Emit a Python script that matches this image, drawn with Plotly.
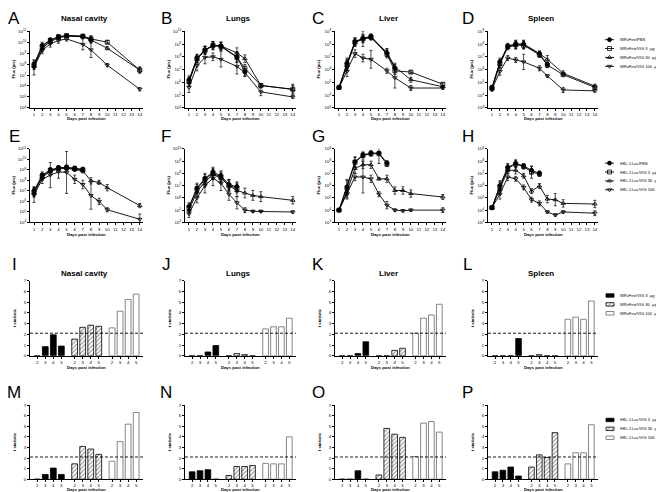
import plotly.graph_objects as go
import numpy as np

W, H = 664, 492

# ---------------- DATA (log10 flux, p/s) ----------------
days_wr = [1, 2, 3, 4, 5, 7, 8, 10, 14]
days_ihd = [1, 2, 3, 4, 5, 6, 7, 8, 9, 10, 14]

series_names_wr = ["WRvFire/PBS", "WRvFire/VIG 3  \u00b5g", "WRvFire/VIG 30  \u00b5g", "WRvFire/VIG 100  \u00b5g"]
series_names_ihd = ["IHD-J-Luc/PBS", "IHD-J-Luc/VIG 3  \u00b5g", "IHD-J-Luc/VIG 30  \u00b5g", "IHD-J-Luc/VIG 100  \u00b5g"]

# A  Nasal cavity (WR)
nasal_wr_pbs = [8.0, 9.7, 10.2, 10.5, 10.6, 10.55, 10.25]
nasal_wr_v3 = [7.9, 9.6, 10.15, 10.5, 10.6, 10.55, 10.3, 10.0, 7.45]
nasal_wr_v30 = [7.8, 9.45, 10.05, 10.4, 10.55, 10.5, 10.2, 9.45, 7.45]
nasal_wr_v100 = [7.7, 9.25, 9.85, 10.15, 10.3, 9.8, 9.3, 7.9, 5.7]
nasal_wr_err = [[0.3, 0.3, 0.2, 0.15, 0.1, 0.1, 0.2],
                [0.3, 0.3, 0.2, 0.15, 0.1, 0.15, 0.3, 0.15, 0.3],
                [0.3, 0.3, 0.2, 0.15, 0.1, 0.15, 0.3, 0.15, 0.2],
                [0.7, 0.3, 0.3, 0.25, 0.2, 0.5, 0.7, 0.15, 0.15]]
# B  Lungs (WR)
lungs_wr_pbs = [6.2, 7.9, 8.55, 8.9, 8.85, 8.0, 6.8]
lungs_wr_v3 = [6.1, 7.85, 8.5, 8.9, 8.8, 7.95, 7.1, 5.75, 5.45]
lungs_wr_v30 = [6.0, 7.8, 8.5, 8.85, 8.85, 8.3, 7.85, 5.75, 5.45]
lungs_wr_v100 = [5.6, 7.3, 7.95, 8.0, 7.8, 7.25, 6.75, 5.25, 4.85]
lungs_wr_err = [[0.3, 0.3, 0.3, 0.3, 0.3, 0.4, 0.3],
                [0.3, 0.3, 0.3, 0.3, 0.3, 0.4, 0.3, 0.1, 0.4],
                [0.3, 0.3, 0.3, 0.3, 0.3, 0.4, 0.3, 0.1, 0.3],
                [0.4, 0.4, 0.5, 0.3, 0.6, 0.6, 0.3, 0.3, 0.1]]
# C  Liver (WR)
liver_wr_pbs = [4.6, 6.5, 8.2, 8.45, 8.6, 7.3, 6.1]
liver_wr_v3 = [4.6, 6.4, 8.15, 8.4, 8.55, 7.2, 5.9, 5.8, 4.85]
liver_wr_v30 = [4.55, 6.3, 8.1, 8.4, 8.5, 7.35, 6.2, 5.2, 4.65]
liver_wr_v100 = [4.55, 5.85, 7.25, 6.9, 6.8, 5.9, 5.35, 4.55, 4.55]
liver_wr_err = [[0.1, 0.4, 0.3, 0.3, 0.2, 0.3, 0.3],
                [0.1, 0.4, 0.3, 0.6, 0.2, 0.3, 0.3, 0.1, 0.1],
                [0.1, 0.4, 0.3, 0.3, 0.2, 0.3, 0.3, 0.2, 0.1],
                [0.1, 0.4, 0.3, 0.3, 0.7, 0.2, 0.8, 0.2, 0.1]]
# D  Spleen (WR)
spleen_wr_pbs = [4.6, 6.6, 7.85, 8.0, 8.0, 7.25, 6.4]
spleen_wr_v3 = [4.55, 6.5, 7.8, 7.95, 7.9, 7.15, 6.35, 5.6, 4.6]
spleen_wr_v30 = [4.5, 6.4, 7.75, 7.9, 7.95, 7.25, 6.8, 5.7, 4.7]
spleen_wr_v100 = [4.45, 5.85, 6.9, 6.75, 6.6, 6.1, 5.5, 4.4, 4.33]
spleen_wr_err = [[0.15, 0.3, 0.2, 0.3, 0.3, 0.2, 0.2],
                 [0.15, 0.3, 0.2, 0.3, 0.3, 0.2, 0.2, 0.1, 0.1],
                 [0.15, 0.3, 0.2, 0.3, 0.3, 0.2, 0.3, 0.2, 0.15],
                 [0.15, 0.3, 0.2, 0.2, 0.6, 0.2, 0.1, 0.2, 0.1]]
# E  Nasal cavity (IHD)
nasal_ihd_pbs = [7.0, 8.5, 9.0, 9.2, 9.25, 9.15, 9.05]
nasal_ihd_v3 = [6.9, 8.4, 8.95, 9.15, 9.2, 9.1, 9.0]
nasal_ihd_v30 = [6.8, 8.3, 8.85, 9.1, 9.15, 9.05, 8.9, 7.95, 7.8, 7.3, 5.6]
nasal_ihd_v100 = [6.6, 8.1, 8.5, 8.8, 8.75, 8.1, 7.6, 6.55, 6.0, 5.2, 4.3]
nasal_ihd_err = [[0.4, 0.3, 0.2, 0.2, 0.2, 0.2, 0.2],
                 [0.4, 0.3, 0.2, 0.2, 0.2, 0.2, 0.2],
                 [0.4, 0.3, 0.2, 0.2, 0.2, 0.2, 0.2, 0.3, 0.2, 0.3, 0.2],
                 [0.7, 0.4, 1.2, 0.6, 2.0, 0.4, 0.4, 1.3, 0.3, 0.2, 0.5]]
# F  Lungs (IHD)
lungs_ihd_pbs = [5.3, 6.8, 7.6, 8.1, 7.8, 7.1, 6.9]
lungs_ihd_v3 = [5.2, 6.7, 7.5, 8.0, 7.7, 7.0, 6.8]
lungs_ihd_v30 = [5.0, 6.5, 7.3, 7.9, 7.6, 7.0, 6.6, 6.4, 6.2, 6.1, 5.8]
lungs_ihd_v100 = [4.7, 6.0, 7.0, 7.6, 7.2, 6.3, 5.6, 5.0, 4.9, 4.9, 4.85]
lungs_ihd_err = [[0.3, 0.4, 0.4, 0.4, 0.4, 0.4, 0.4],
                 [0.3, 0.4, 0.4, 0.4, 0.4, 0.4, 0.4],
                 [0.3, 0.4, 0.4, 0.4, 0.4, 0.5, 0.5, 0.4, 0.4, 0.4, 0.3],
                 [0.3, 0.4, 0.6, 0.6, 0.6, 0.5, 0.5, 0.2, 0.1, 0.1, 0.1]]
# G  Liver (IHD)
liver_ihd_pbs = [4.0, 5.9, 7.95, 8.5, 8.65, 8.65, 7.85]
liver_ihd_v3 = [4.0, 5.8, 7.9, 8.45, 8.6, 8.6, 7.75]
liver_ihd_v30 = [4.0, 5.5, 7.4, 7.7, 7.7, 6.55, 6.55, 5.6, 5.6, 5.35, 5.07]
liver_ihd_v100 = [4.0, 5.3, 6.7, 6.7, 6.55, 5.3, 4.4, 4.0, 3.95, 4.0, 4.0]
liver_ihd_err = [[0.1, 0.6, 0.4, 0.2, 0.2, 0.1, 0.2],
                 [0.1, 0.6, 0.4, 0.3, 0.2, 0.8, 0.2],
                 [0.1, 0.5, 0.4, 0.3, 0.3, 0.1, 0.3, 0.3, 0.3, 0.3, 0.2],
                 [0.1, 0.4, 0.3, 1.3, 0.3, 0.2, 0.3, 0.1, 0.1, 0.1, 0.2]]
# H  Spleen (IHD)
spleen_ihd_pbs = [4.2, 6.0, 7.5, 7.8, 7.6, 7.25, 7.0]
spleen_ihd_v3 = [4.2, 5.9, 7.4, 7.75, 7.55, 7.1, 6.95]
spleen_ihd_v30 = [4.2, 5.7, 7.25, 7.25, 6.8, 5.55, 5.97, 4.9, 4.85, 4.55, 4.5]
spleen_ihd_v100 = [4.2, 5.3, 6.7, 6.55, 5.85, 4.85, 4.55, 3.85, 3.6, 3.85, 3.75]
spleen_ihd_err = [[0.1, 0.4, 0.3, 0.3, 0.2, 0.3, 0.2],
                  [0.1, 0.4, 0.3, 0.3, 0.2, 0.5, 0.2],
                  [0.1, 0.4, 0.3, 0.3, 0.2, 0.2, 0.2, 0.3, 0.5, 0.3, 0.3],
                  [0.1, 0.4, 0.3, 0.2, 0.2, 0.2, 0.2, 0.1, 0.1, 0.1, 0.2]]

# t statistics, days 2-5 for each dose group
bar_days = ["2", "3", "4", "5"]
bar_names_wr = ["WRvFire/VIG 3  \u00b5g", "WRvFire/VIG 30  \u00b5g", "WRvFire/VIG 100  \u00b5g"]
bar_names_ihd = ["IHD-J-Luc/VIG 3  \u00b5g", "IHD-J-Luc/VIG 30  \u00b5g", "IHD-J-Luc/VIG 100  \u00b5g"]
t_nasal_wr = [[0, 0.85, 1.95, 0.9], [1.55, 2.65, 2.85, 2.75], [2.6, 4.15, 5.25, 5.75]]
t_lungs_wr = [[0, 0, 0.35, 0.95], [0, 0.2, 0.1, 0], [2.5, 2.7, 2.7, 3.5]]
t_liver_wr = [[0, 0, 0.2, 1.3], [0, 0, 0.5, 0.7], [2.1, 3.5, 3.8, 4.8]]
t_spleen_wr = [[0, 0, 0, 1.6], [0, 0.1, 0, 0], [3.4, 3.6, 3.4, 5.1]]
t_nasal_ihd = [[0, 0.45, 1.05, 0.45], [1.45, 3.1, 2.85, 2.35], [1.7, 3.55, 5.2, 6.3]]
t_lungs_ihd = [[0.7, 0.8, 0.9, 0], [0.35, 1.2, 1.2, 1.3], [1.5, 1.45, 1.45, 4.0]]
t_liver_ihd = [[0, 0, 0.8, 0], [0.4, 4.8, 4.25, 3.95], [2.15, 5.3, 5.45, 4.45]]
t_spleen_ihd = [[0.7, 0.85, 1.15, 0.3], [1.15, 2.3, 2.05, 4.4], [1.45, 2.5, 2.5, 5.15]]
t_critical = 2.1

# ---------------- LAYOUT CONSTANTS ----------------
FONT = "Arial, Liberation Sans, sans-serif"
col_px = [(22, 135), (177, 288), (327, 438), (480, 590)]
row_px = [(20.5, 98), (139.5, 214), (273, 349), (399, 474)]
tick_f = 4.4

def xd(a, b):
    return [a / W, b / W]

def yd(top, bot):
    return [1 - bot / H, 1 - top / H]

fig = go.Figure()
layout = {}
annotations = []

symbols = ["circle", "square-open", "triangle-up-open", "triangle-down-open"]

line_panels = [
    ("A", "Nasal cavity", days_wr, [nasal_wr_pbs, nasal_wr_v3, nasal_wr_v30, nasal_wr_v100], nasal_wr_err, (4, 11)),
    ("B", "Lungs", days_wr, [lungs_wr_pbs, lungs_wr_v3, lungs_wr_v30, lungs_wr_v100], lungs_wr_err, (4, 10)),
    ("C", "Liver", days_wr, [liver_wr_pbs, liver_wr_v3, liver_wr_v30, liver_wr_v100], liver_wr_err, (3, 9)),
    ("D", "Spleen", days_wr, [spleen_wr_pbs, spleen_wr_v3, spleen_wr_v30, spleen_wr_v100], spleen_wr_err, (3, 9)),
    ("E", None, days_ihd, [nasal_ihd_pbs, nasal_ihd_v3, nasal_ihd_v30, nasal_ihd_v100], nasal_ihd_err, (4, 11)),
    ("F", None, days_ihd, [lungs_ihd_pbs, lungs_ihd_v3, lungs_ihd_v30, lungs_ihd_v100], lungs_ihd_err, (4, 10)),
    ("G", None, days_ihd, [liver_ihd_pbs, liver_ihd_v3, liver_ihd_v30, liver_ihd_v100], liver_ihd_err, (3, 9)),
    ("H", None, days_ihd, [spleen_ihd_pbs, spleen_ihd_v3, spleen_ihd_v30, spleen_ihd_v100], spleen_ihd_err, (3, 9)),
]
bar_panels = [
    ("I", "Nasal cavity", t_nasal_wr), ("J", "Lungs", t_lungs_wr),
    ("K", "Liver", t_liver_wr), ("L", "Spleen", t_spleen_wr),
    ("M", None, t_nasal_ihd), ("N", None, t_lungs_ihd),
    ("O", None, t_liver_ihd), ("P", None, t_spleen_ihd),
]

letter_x = [6, 158, 310, 460]
letter_y = [8, 127, 257, 386]
xtitle_off = [10.5, 12, 12, 10.5]

axis_common = dict(showline=True, linecolor="black", linewidth=1, ticks="outside",
                   ticklen=2, tickwidth=0.8, tickcolor="black", showgrid=False, zeroline=False,
                   tickfont=dict(family=FONT, size=tick_f, color="black"))

def add_axes(idx, col, row):
    xa = dict(axis_common)
    ya = dict(axis_common)
    x0, x1 = col_px[col]
    t, b = row_px[row]
    xa["domain"] = xd(x0, x1)
    ya["domain"] = yd(t, b)
    xa["anchor"] = "y" + (str(idx) if idx > 1 else "")
    ya["anchor"] = "x" + (str(idx) if idx > 1 else "")
    return xa, ya

def panel_text(letter, title, col, row, ytitle):
    x0, x1 = col_px[col]
    t, b = row_px[row]
    cx = (x0 + x1) / 2
    annotations.append(dict(text=letter, x=letter_x[col] / W, y=1 - letter_y[row] / H, xref="paper", yref="paper",
                            showarrow=False, font=dict(family=FONT, size=17, color="black"),
                            xanchor="center", yanchor="middle"))
    if title:
        ty = 8 if row == 0 else 266
        annotations.append(dict(text="<b>%s</b>" % title, x=(cx - 2) / W, y=1 - ty / H, xref="paper", yref="paper",
                                showarrow=False, font=dict(family=FONT, size=8, color="black"),
                                xanchor="center", yanchor="middle"))
    annotations.append(dict(text="<b>Days post infection</b>", x=cx / W, y=1 - (b + xtitle_off[row]) / H,
                            xref="paper", yref="paper", showarrow=False,
                            font=dict(family=FONT, size=4.2, color="black"),
                            xanchor="center", yanchor="middle"))
    annotations.append(dict(text="<b>%s</b>" % ytitle, x=(x0 - 16) / W, y=1 - ((t + b) / 2) / H, xref="paper",
                            yref="paper", showarrow=False, textangle=-90,
                            font=dict(family=FONT, size=4.2, color="black"),
                            xanchor="center", yanchor="middle"))

idx = 1
for p, (letter, title, days, series, errs, yr) in enumerate(line_panels):
    col, row = p % 4, p // 4
    xa, ya = add_axes(idx, col, row)
    xa.update(range=[0.5, 14.4], tickvals=list(range(1, 15)), ticktext=[str(d) for d in range(1, 15)])
    ya.update(type="log", range=[yr[0], yr[1]],
              tickvals=[10.0 ** k for k in range(yr[0], yr[1] + 1)],
              ticktext=["10<sup>%d</sup>" % k for k in range(yr[0], yr[1] + 1)])
    layout["xaxis" + (str(idx) if idx > 1 else "")] = xa
    layout["yaxis" + (str(idx) if idx > 1 else "")] = ya
    for s, (vals, e) in enumerate(zip(series, errs)):
        lv = np.array(vals)
        ev = np.array(e)
        y = 10.0 ** lv
        fig.add_trace(go.Scatter(
            x=days[:len(vals)], y=y, mode="lines+markers",
            line=dict(color="black", width=0.9),
            marker=dict(symbol=symbols[s], size=4, color="black", line=dict(color="black", width=0.8)),
            error_y=dict(type="data", array=10.0 ** (lv + ev) - y, arrayminus=y - 10.0 ** (lv - ev),
                         color="black", thickness=0.7, width=1.5),
            xaxis="x" + (str(idx) if idx > 1 else ""), yaxis="y" + (str(idx) if idx > 1 else ""),
            showlegend=False, hoverinfo="skip"))
    panel_text(letter, title, col, row, "Flux (p/s)")
    idx += 1

bar_pos = [0, 1, 2, 3, 4.65, 5.65, 6.65, 7.65, 9.3, 10.3, 11.3, 12.3]
bar_styles = [dict(color="black", line=dict(color="black", width=0.8)),
              dict(color="white", line=dict(color="black", width=0.8),
                   pattern=dict(shape="/", fgcolor="black", bgcolor="white", size=3, solidity=0.3)),
              dict(color="white", line=dict(color="#777777", width=0.9))]
bx_range = [-0.9, 13.15]

for p, (letter, title, groups) in enumerate(bar_panels):
    col, row = p % 4, 2 + p // 4
    xa, ya = add_axes(idx, col, row)
    xa.update(range=bx_range, tickvals=bar_pos, ticktext=bar_days * 3)
    ya.update(range=[0, 7], tickvals=list(range(0, 8)), ticktext=[str(k) for k in range(0, 8)])
    layout["xaxis" + str(idx)] = xa
    layout["yaxis" + str(idx)] = ya
    for g, vals in enumerate(groups):
        fig.add_trace(go.Bar(x=bar_pos[4 * g:4 * g + 4], y=vals, width=0.72, marker=bar_styles[g],
                             xaxis="x" + str(idx), yaxis="y" + str(idx), showlegend=False, hoverinfo="skip"))
    fig.add_trace(go.Scatter(x=bx_range, y=[t_critical, t_critical], mode="lines",
                             line=dict(color="black", width=0.9, dash="3px,2px"),
                             xaxis="x" + str(idx), yaxis="y" + str(idx), showlegend=False, hoverinfo="skip"))
    panel_text(letter, title, col, row, "t statistic")
    idx += 1

# ---------------- manual legends (pixel overlay axis) ----------------
ov = str(idx)
layout["xaxis" + ov] = dict(domain=[0, 1], range=[0, W], visible=False, anchor="y" + ov, fixedrange=True)
layout["yaxis" + ov] = dict(domain=[0, 1], range=[H, 0], visible=False, anchor="x" + ov, fixedrange=True)

LEG_F = 4.1
legend_line_rows = [(29, 9), (154, 9)]
for (y0, dy), names in zip(legend_line_rows, [series_names_wr, series_names_ihd]):
    for s, name in enumerate(names):
        yy = y0 + dy * s
        fig.add_trace(go.Scatter(x=[597, 606], y=[yy, yy], mode="lines", line=dict(color="black", width=0.9),
                                 xaxis="x" + ov, yaxis="y" + ov, showlegend=False, hoverinfo="skip"))
        fig.add_trace(go.Scatter(x=[601.5], y=[yy], mode="markers",
                                 marker=dict(symbol=symbols[s], size=4, color="black", line=dict(color="black", width=0.8)),
                                 xaxis="x" + ov, yaxis="y" + ov, showlegend=False, hoverinfo="skip"))
        annotations.append(dict(text=name, x=609.5, y=yy, xref="x" + ov, yref="y" + ov, showarrow=False,
                                xanchor="left", yanchor="middle", font=dict(family=FONT, size=LEG_F, color="black")))

legend_bar_rows = [(288, 9), (414, 9)]
for (y0, dy), names in zip(legend_bar_rows, [bar_names_wr, bar_names_ihd]):
    for g, name in enumerate(names):
        yy = y0 + dy * g
        fig.add_trace(go.Bar(y=[yy], x=[8], base=[598], width=3.5, orientation="h", marker=bar_styles[g],
                             xaxis="x" + ov, yaxis="y" + ov, showlegend=False, hoverinfo="skip"))
        annotations.append(dict(text=name, x=609.5, y=yy, xref="x" + ov, yref="y" + ov, showarrow=False,
                                xanchor="left", yanchor="middle", font=dict(family=FONT, size=LEG_F, color="black")))

fig.update_layout(**layout)
fig.update_layout(width=W, height=H, margin=dict(l=0, r=0, t=0, b=0), paper_bgcolor="white",
                  plot_bgcolor="rgba(0,0,0,0)", annotations=annotations, showlegend=False,
                  barmode="overlay", font=dict(family=FONT, color="black"))
fig.write_html("out.html")
